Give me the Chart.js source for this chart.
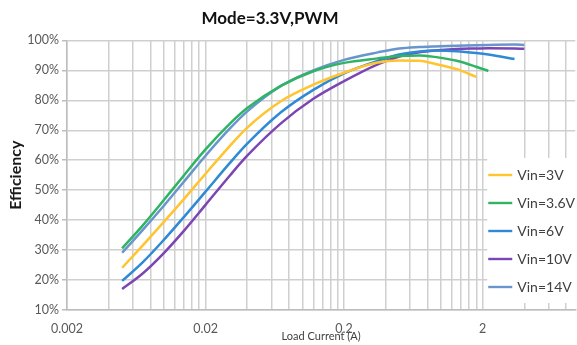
<!DOCTYPE html>
<html>
<head>
<meta charset="utf-8">
<script src="https://cdn.jsdelivr.net/npm/chart.js@4/dist/chart.umd.min.js"></script>
<style>
  html, body { margin: 0; padding: 0; background: #ffffff; overflow: hidden; }
  canvas { display: block; }
</style>
</head>
<body>
<canvas id="eff" width="577" height="345"></canvas>
<script>
// Load current (A) at which efficiency was sampled
const loadCurrent = [0.005, 0.007, 0.01, 0.014, 0.02, 0.03, 0.04, 0.07, 0.12, 0.2, 0.35, 0.5, 0.7, 0.9, 1.3, 1.8, 2.2, 3.4, 4];

// Efficiency (%) for each input voltage; null where the sweep stopped
const vin3V   = [24.1, 31.4, 39.4, 47.1, 55.5, 64.8, 70.9, 79.7, 85.2, 89.2, 92.6, 93.3, 93.2, 92.2, 90.4, 87.8, null, null, null];
const vin3_6V = [30.6, 38.1, 46.7, 55.0, 63.6, 72.2, 77.4, 84.8, 89.7, 92.5, 94.0, 94.8, 95.0, 94.5, 93.2, 91.2, 89.8, null, null];
const vin6V   = [19.7, 25.8, 33.4, 41.1, 49.5, 59.1, 65.5, 76.0, 83.5, 89.0, 93.2, 95.3, 96.3, 96.6, 96.4, 95.8, 95.3, 93.8, null];
const vin10V  = [17.0, 22.1, 29.0, 36.5, 45.1, 54.9, 61.5, 72.3, 80.5, 86.4, 92.0, 94.6, 96.0, 96.6, 97.1, 97.3, 97.4, 97.3, 97.2];
const vin14V  = [29.1, 36.6, 44.8, 52.9, 61.5, 70.6, 76.3, 84.8, 90.0, 93.5, 96.0, 97.3, 97.8, 98.0, 98.2, 98.4, 98.5, 98.6, 98.5];

const seriesNames  = ['Vin=3V', 'Vin=3.6V', 'Vin=6V', 'Vin=10V', 'Vin=14V'];
const seriesValues = [vin3V, vin3_6V, vin6V, vin10V, vin14V];
const seriesColors = ['#FFC42E', '#2FB463', '#2E8AD6', '#7B45B3', '#6896CC'];

// Axis labels and range
const loadTickLabels = ['0.002', '0.02', '0.2', '2'];
const loadGridSteps  = [1, 2, 3, 4, 5, 6, 7, 8, 9];
const loadAxisMin    = 0.002;
const loadAxisMax    = 9.33;
const effTicks       = [10, 20, 30, 40, 50, 60, 70, 80, 90, 100];

// Grid lines sit at every multiple of each labelled decade start
const loadGridValues = [];
loadTickLabels.forEach(lbl => {
  const base = parseFloat(lbl);
  loadGridSteps.forEach(k => {
    const v = +(base * k).toPrecision(6);
    if (v <= loadAxisMax) loadGridValues.push(v);
  });
});

const textGray = '#595959';
const gridGray = '#cfcfcf';

const datasets = seriesNames.map((name, s) => ({
  label: name,
  data: loadCurrent.map((x, i) => ({ x: x, y: seriesValues[s][i] })),
  borderColor: seriesColors[s],
  backgroundColor: seriesColors[s],
  borderWidth: 2.5,
  pointRadius: 0,
  fill: false,
  cubicInterpolationMode: 'monotone'
}));

// Title centred over the left part of the figure
const titleOffset = {
  id: 'titleOffset',
  afterLayout(chart) {
    const t = chart.titleBlock;
    if (t) { t.left = 0; t.right = 540; }
  }
};

// Legend boxed inside the lower right of the plot
const insetLegend = {
  id: 'insetLegend',
  afterDraw(chart) {
    const { ctx, chartArea } = chart;
    const boxLeft = chartArea.right - 88;
    const boxTop = chartArea.bottom - 152;
    ctx.save();
    ctx.fillStyle = '#ffffff';
    ctx.fillRect(boxLeft, boxTop, 100, 145);
    ctx.font = '14px Lato';
    ctx.textBaseline = 'middle';
    ctx.textAlign = 'left';
    chart.data.datasets.forEach((ds, i) => {
      const y = boxTop + 17 + i * 28;
      ctx.strokeStyle = ds.borderColor;
      ctx.lineWidth = 2.4;
      ctx.beginPath();
      ctx.moveTo(boxLeft + 1, y);
      ctx.lineTo(boxLeft + 25, y);
      ctx.stroke();
      ctx.fillStyle = '#404040';
      ctx.fillText(ds.label, boxLeft + 30, y);
    });
    ctx.restore();
  }
};

new Chart(document.getElementById('eff'), {
  type: 'line',
  data: { datasets: datasets },
  plugins: [titleOffset, insetLegend],
  options: {
    responsive: false,
    animation: false,
    devicePixelRatio: 1,
    events: [],
    layout: { padding: 0 },
    plugins: {
      legend: { display: false },
      tooltip: { enabled: false },
      title: {
        display: true,
        text: 'Mode=3.3V,PWM',
        color: '#111111',
        font: { family: 'Lato', size: 17, weight: 'bold' },
        padding: { top: 8, bottom: 12 }
      }
    },
    scales: {
      x: {
        type: 'logarithmic',
        bounds: 'data',
        min: loadAxisMin,
        max: loadAxisMax,
        afterBuildTicks(scale) {
          scale.ticks = loadGridValues.map(v => ({ value: v }));
        },
        afterFit(scale) { scale.height = 35; },
        grid: { color: gridGray, lineWidth: 1.5, drawTicks: false },
        border: { color: '#bdbdbd', width: 1.5 },
        ticks: {
          autoSkip: false,
          maxRotation: 0,
          padding: 11,
          color: textGray,
          font: { family: 'Lato', size: 12.5 },
          callback(value) {
            const hit = loadTickLabels.find(l => Math.abs(Math.log10(value / parseFloat(l))) < 1e-6);
            return hit || '';
          }
        },
        title: {
          display: true,
          text: 'Load Current (A)',
          color: '#404040',
          font: { family: 'Lato', size: 11 },
          padding: { top: 0, bottom: 2 }
        }
      },
      y: {
        type: 'linear',
        min: 10,
        max: 100,
        afterBuildTicks(scale) {
          scale.ticks = effTicks.map(v => ({ value: v }));
        },
        afterFit(scale) { scale.width = 67; },
        grid: { color: gridGray, lineWidth: 1.5, tickLength: 5, tickColor: '#bdbdbd' },
        border: { color: '#bdbdbd', width: 1.5 },
        ticks: {
          padding: 3,
          color: textGray,
          font: { family: 'Lato', size: 12.5 },
          callback(value) { return value + '%'; }
        },
        title: {
          display: true,
          text: 'Efficiency',
          color: '#1a1a1a',
          font: { family: 'Lato', size: 16, weight: 'bold' },
          padding: { top: 6, bottom: 0 }
        }
      }
    }
  }
});
</script>
</body>
</html>
